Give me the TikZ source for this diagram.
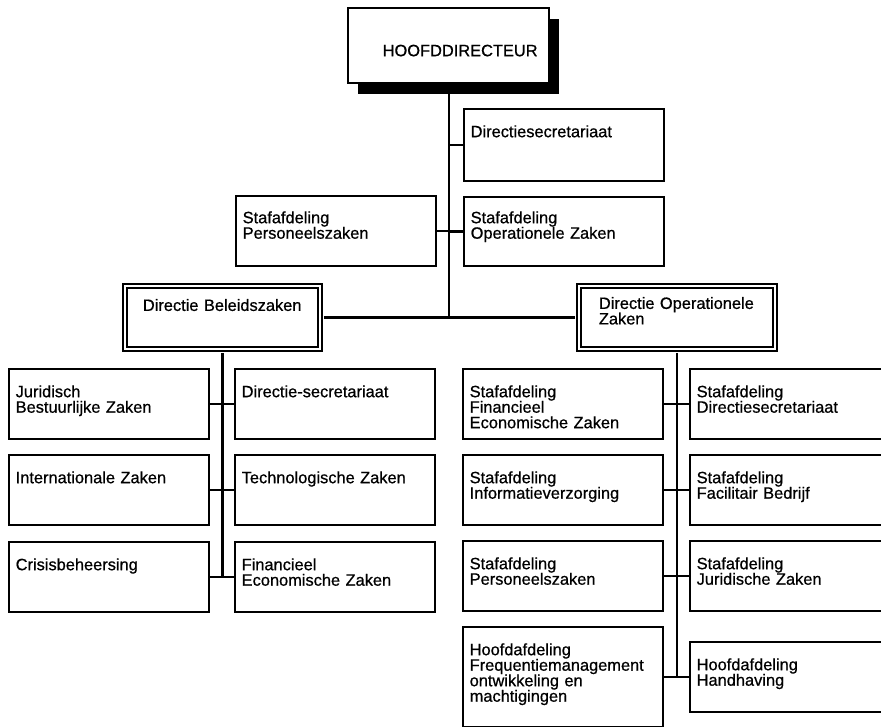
\documentclass[tikz,border=0pt]{standalone}
\usepackage{fontspec}
\setmainfont{Liberation Sans}[FakeBold=0.7]
\usetikzlibrary{shadows}

\newcommand{\orgfont}{\fontsize{16.4pt}{15.5pt}\selectfont\hyphenpenalty=10000\lineskiplimit=-4pt\relax}

\begin{document}
\begin{tikzpicture}[x=1pt, y=-1pt,
    orgbox/.style={draw, line width=2.4pt, anchor=north west, align=left,
        inner xsep=6.5pt, inner ysep=0pt, text width=187pt,
        text height=28pt, text depth=42pt, font=\orgfont},
    topbox/.style={orgbox, fill=white, line width=2.4pt, inner xsep=11.5pt, text width=178pt,
        text height=48pt, text depth=27pt,
        drop shadow={shadow xshift=10pt, shadow yshift=-11pt, fill=black, opacity=1}},
    dirbox/.style={orgbox, double, line width=1.8pt, double distance=2.6pt,
        inner xsep=18pt, text width=159pt, text height=25pt, text depth=38pt},
    orgline/.style={line width=2.4pt}]
    \useasboundingbox (0,0) rectangle (881,727);
    \clip (0,0) rectangle (881,727);

    % Hoofddirecteur
    \node[topbox] (hd) at (347,7) {\mbox{\hspace{23pt}HOOFDDIRECTEUR}};

    % Staf hoofddirecteur
    \node[orgbox, text depth=44pt] (dsec) at (463,108) {Directiesecretariaat};
    \node[orgbox, text height=26pt, text depth=43pt] (sopz) at (463,196) {Stafafdeling\\Operationele Zaken};
    \node[orgbox, text height=27pt, text depth=43pt] (spz) at (235,195) {Stafafdeling\\Personeelszaken};

    % Directies
    \node[dirbox] (dbz) at (124,285) {Directie Beleidszaken};
    \node[dirbox, inner xsep=20pt, text width=156pt, text height=23pt, text depth=40pt] (dopz) at (578,285) {Directie Operationele\\Zaken};

    % Directie Beleidszaken
    \node[orgbox] (jbz) at (8,368) {Juridisch\\Bestuurlijke Zaken};
    \node[orgbox] (dsecb) at (234,368) {Directie-secretariaat};
    \node[orgbox] (iz) at (8,454) {Internationale Zaken};
    \node[orgbox] (tz) at (234,454) {Technologische Zaken};
    \node[orgbox] (cb) at (8,541) {Crisisbeheersing};
    \node[orgbox] (fez) at (234,541) {Financieel\\Economische Zaken};

    % Directie Operationele Zaken
    \node[orgbox] (sfez) at (462,368) {Stafafdeling\\Financieel\\Economische Zaken};
    \node[orgbox] (sdir) at (689,368) {Stafafdeling\\Directiesecretariaat};
    \node[orgbox] (sinf) at (462,454) {Stafafdeling\\Informatieverzorging};
    \node[orgbox] (sfb) at (689,454) {Stafafdeling\\Facilitair Bedrijf};
    \node[orgbox] (spzo) at (462,540) {Stafafdeling\\Personeelszaken};
    \node[orgbox] (sjz) at (689,540) {Stafafdeling\\Juridische Zaken};
    \node[orgbox, text depth=72pt] (hfm) at (462,626) {Hoofdafdeling\\Frequentiemanagement\\ontwikkeling en\\machtigingen};
    \node[orgbox] (hh) at (689,641) {Hoofdafdeling\\Handhaving};

    % Lijnen
    \draw[orgline] (hd.south) -- (hd.south |- dbz.east);
    \draw[orgline] ([xshift=3pt]dbz.east) -- ([xshift=-3pt]dopz.west);
    \draw[orgline] (dsec.west) -- (dsec.west -| hd.south);
    \draw[orgline] (sopz.west) -- (sopz.west -| hd.south);
    \draw[orgline] (spz.east) -- (spz.east -| hd.south);

    \draw[orgline] ([yshift=-3pt]dbz.south) -- (dbz.south |- cb.east);
    \foreach \l/\r in {jbz/dsecb, iz/tz, cb/fez}
        \draw[orgline] (\l.east) -- (\r.west);

    \draw[orgline] ([yshift=-3pt]dopz.south) -- (dopz.south |- hfm.east);
    \foreach \l/\r in {sfez/sdir, sinf/sfb, spzo/sjz, hfm/hh}
        \draw[orgline] (\l.east) -- (\r.west);
\end{tikzpicture}
\end{document}
